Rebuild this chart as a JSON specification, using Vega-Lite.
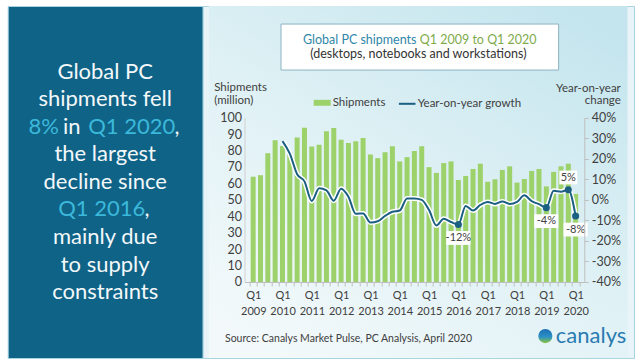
{
  "$schema": "https://vega.github.io/schema/vega-lite/v6.json",
  "background": "#ffffff",
  "padding": {"left": 6.7, "top": 5, "right": 7, "bottom": 6},
  "bounds": "flush",
  "spacing": 0,
  "config": {"font": "Lato", "view": {"stroke": null}, "axis": {"grid": false, "labelOverlap": false, "zindex": 1}},
  "datasets": {
    "q": [
      {"i":0,"q":"Q1 2009","s":64.1,"g":null},
      {"i":1,"q":"Q2 2009","s":65.0,"g":null},
      {"i":2,"q":"Q3 2009","s":78.3,"g":null},
      {"i":3,"q":"Q4 2009","s":86.2,"g":null},
      {"i":4,"q":"Q1 2010","s":82.8,"g":0.286},
      {"i":5,"q":"Q2 2010","s":79.0,"g":0.225},
      {"i":6,"q":"Q3 2010","s":88.0,"g":0.125},
      {"i":7,"q":"Q4 2010","s":93.9,"g":0.09},
      {"i":8,"q":"Q1 2011","s":82.4,"g":-0.006},
      {"i":9,"q":"Q2 2011","s":83.6,"g":0.056},
      {"i":10,"q":"Q3 2011","s":91.7,"g":0.046},
      {"i":11,"q":"Q4 2011","s":93.7,"g":-0.004},
      {"i":12,"q":"Q1 2012","s":86.6,"g":0.054},
      {"i":13,"q":"Q2 2012","s":84.6,"g":0.015},
      {"i":14,"q":"Q3 2012","s":85.6,"g":-0.068},
      {"i":15,"q":"Q4 2012","s":87.6,"g":-0.066},
      {"i":16,"q":"Q1 2013","s":77.6,"g":-0.11},
      {"i":17,"q":"Q2 2013","s":75.4,"g":-0.104},
      {"i":18,"q":"Q3 2013","s":79.0,"g":-0.078},
      {"i":19,"q":"Q4 2013","s":82.6,"g":-0.058},
      {"i":20,"q":"Q1 2014","s":73.4,"g":-0.052},
      {"i":21,"q":"Q2 2014","s":76.0,"g":0.007},
      {"i":22,"q":"Q3 2014","s":79.7,"g":0.007},
      {"i":23,"q":"Q4 2014","s":82.6,"g":0.0},
      {"i":24,"q":"Q1 2015","s":69.9,"g":-0.05},
      {"i":25,"q":"Q2 2015","s":66.4,"g":-0.125},
      {"i":26,"q":"Q3 2015","s":72.4,"g":-0.092},
      {"i":27,"q":"Q4 2015","s":73.4,"g":-0.108},
      {"i":28,"q":"Q1 2016","s":62.1,"g":-0.12,"lab":"-12%"},
      {"i":29,"q":"Q2 2016","s":64.5,"g":-0.03},
      {"i":30,"q":"Q3 2016","s":68.8,"g":-0.052},
      {"i":31,"q":"Q4 2016","s":72.0,"g":-0.025},
      {"i":32,"q":"Q1 2017","s":61.0,"g":-0.01},
      {"i":33,"q":"Q2 2017","s":62.5,"g":-0.02},
      {"i":34,"q":"Q3 2017","s":68.2,"g":-0.008},
      {"i":35,"q":"Q4 2017","s":70.4,"g":-0.02},
      {"i":36,"q":"Q1 2018","s":60.5,"g":-0.01},
      {"i":37,"q":"Q2 2018","s":62.7,"g":0.022},
      {"i":38,"q":"Q3 2018","s":67.6,"g":-0.006},
      {"i":39,"q":"Q4 2018","s":68.8,"g":-0.021},
      {"i":40,"q":"Q1 2019","s":58.2,"g":-0.038,"lab":"-4%"},
      {"i":41,"q":"Q2 2019","s":67.0,"g":0.044},
      {"i":42,"q":"Q3 2019","s":70.4,"g":0.04},
      {"i":43,"q":"Q4 2019","s":72.0,"g":0.049,"lab":"5%"},
      {"i":44,"q":"Q1 2020","s":53.6,"g":-0.079,"lab":"-8%"}
    ]
  },
  "hconcat": [
    {
      "width": 195,
      "height": 352,
      "view": {"fill": "#0f6387", "stroke": "#a9d4e2"},
      "layer": [
        {
          "data": {"values": [
            {"line": 1, "text": "Global PC"},
            {"line": 2, "text": "shipments fell"},
            {"line": 4, "text": "the largest"},
            {"line": 5, "text": "decline since"},
            {"line": 7, "text": "mainly due"},
            {"line": 8, "text": "to supply"},
            {"line": 9, "text": "constraints"}
          ]},
          "mark": {"type": "text", "align": "center", "baseline": "alphabetic", "fontSize": 22, "color": "#f3f8fa"},
          "encoding": {
            "text": {"field": "text"},
            "x": {"datum": 0.5, "type": "quantitative", "scale": {"domain": [0, 1]}, "axis": null},
            "y": {"field": "line", "type": "quantitative", "scale": {"domain": [1, 9], "range": [72.5, 293.3]}, "axis": null}
          }
        },
        {
          "data": {"values": [{"line": 3, "text": "8%"}]},
          "mark": {"type": "text", "align": "right", "baseline": "alphabetic", "fontSize": 22, "color": "#3bb8da"},
          "encoding": {
            "text": {"field": "text"},
            "x": {"datum": 0.2626, "type": "quantitative"},
            "y": {"field": "line", "type": "quantitative"}
          }
        },
        {
          "data": {"values": [{"line": 3, "text": "in"}]},
          "mark": {"type": "text", "align": "right", "baseline": "alphabetic", "fontSize": 22, "color": "#f3f8fa"},
          "encoding": {
            "text": {"field": "text"},
            "x": {"datum": 0.373, "type": "quantitative"},
            "y": {"field": "line", "type": "quantitative"}
          }
        },
        {
          "data": {"values": [{"line": 3, "text": "Q1 2020"}]},
          "mark": {"type": "text", "align": "left", "baseline": "alphabetic", "fontSize": 22, "color": "#3bb8da"},
          "encoding": {
            "text": {"field": "text"},
            "x": {"datum": 0.413, "type": "quantitative"},
            "y": {"field": "line", "type": "quantitative"}
          }
        },
        {
          "data": {"values": [{"line": 3, "text": ","}]},
          "mark": {"type": "text", "align": "left", "baseline": "alphabetic", "fontSize": 22, "color": "#f3f8fa"},
          "encoding": {
            "text": {"field": "text"},
            "x": {"datum": 0.856, "type": "quantitative"},
            "y": {"field": "line", "type": "quantitative"}
          }
        },
        {
          "data": {"values": [{"line": 6, "text": "Q1 2016"}]},
          "mark": {"type": "text", "align": "left", "baseline": "alphabetic", "fontSize": 22, "color": "#3bb8da"},
          "encoding": {
            "text": {"field": "text"},
            "x": {"datum": 0.259, "type": "quantitative"},
            "y": {"field": "line", "type": "quantitative"}
          }
        },
        {
          "data": {"values": [{"line": 6, "text": ","}]},
          "mark": {"type": "text", "align": "left", "baseline": "alphabetic", "fontSize": 22, "color": "#f3f8fa"},
          "encoding": {
            "text": {"field": "text"},
            "x": {"datum": 0.702, "type": "quantitative"},
            "y": {"field": "line", "type": "quantitative"}
          }
        }
      ]
    },
    {
      "width": 431.3,
      "height": 352,
      "view": {"fill": "#e8f4f7", "stroke": "#a9d4e2"},
      "resolve": {"scale": {"y": "independent"}},
      "layer": [
        {
          "layer": [
            {
              "data": {"values": [{}]},
              "mark": {"type": "rect",
                "fill": {"gradient": "linear", "x1": 0.85, "y1": 0, "x2": 0.15, "y2": 1, "stops": [{"offset": 0, "color": "#c4e5ee"}, {"offset": 0.5, "color": "#dff1f5"}, {"offset": 1, "color": "#f3f9fb"}]}},
              "encoding": {
                "x": {"datum": -6.04, "type": "quantitative"},
                "x2": {"datum": 51.08},
                "y": {"datum": 168, "type": "quantitative"},
                "y2": {"datum": -46.3}
              }
            },
            {
              "data": {"values": [{}]},
              "mark": {"type": "rect", "fill": "#ffffff", "stroke": "#8db3c3", "strokeWidth": 1},
              "encoding": {
                "x": {"datum": 3.8, "type": "quantitative"},
                "x2": {"datum": 41.68},
                "y": {"datum": 157, "type": "quantitative"},
                "y2": {"datum": 129}
              }
            },
            {
              "data": {"values": [{}]},
              "mark": {"type": "text", "align": "right", "baseline": "alphabetic", "fontSize": 12.5, "color": "#2f86a8", "text": "Global PC shipments"},
              "encoding": {
                "x": {"datum": 22.28, "type": "quantitative"},
                "y": {"datum": 145, "type": "quantitative"}
              }
            },
            {
              "data": {"values": [{}]},
              "mark": {"type": "text", "align": "left", "baseline": "alphabetic", "fontSize": 12.5, "color": "#7eab4a", "text": "Q1 2009 to Q1 2020"},
              "encoding": {
                "x": {"datum": 22.74, "type": "quantitative"},
                "y": {"datum": 145, "type": "quantitative"}
              }
            },
            {
              "data": {"values": [{}]},
              "mark": {"type": "text", "align": "center", "baseline": "alphabetic", "fontSize": 12.5, "color": "#333333", "text": "(desktops, notebooks and workstations)"},
              "encoding": {
                "x": {"datum": 22.54, "type": "quantitative"},
                "y": {"datum": 136.2, "type": "quantitative"}
              }
            },
            {
              "data": {"name": "q"},
              "mark": {"type": "bar", "size": 5},
              "encoding": {
                "x": {
                  "field": "i", "type": "quantitative", "title": null,
                  "scale": {"domain": [-0.5, 44.5], "range": [41.8, 381.6], "nice": false, "zero": false},
                  "axis": {
                    "orient": "bottom", "offset": -76, "tickCount": 200, "zindex": 1,
                    "values": [-0.5,0.5,1.5,2.5,3.5,4.5,5.5,6.5,7.5,8.5,9.5,10.5,11.5,12.5,13.5,14.5,15.5,16.5,17.5,18.5,19.5,20.5,21.5,22.5,23.5,24.5,25.5,26.5,27.5,28.5,29.5,30.5,31.5,32.5,33.5,34.5,35.5,36.5,37.5,38.5,39.5,40.5,41.5,42.5,43.5,44.5],
                    "labelExpr": "(datum.value + 0.5) % 4 == 0 ? ['Q1', '' + (2009 + (datum.value + 0.5) / 4)] : ''",
                    "labelOffset": 3.78, "labelFlush": false, "labelOverlap": false, "labelBound": false,
                    "domainColor": "#bfbfbf", "tickColor": "#bfbfbf", "tickSize": 4,
                    "labelColor": "#404040", "labelFontSize": 11, "labelPadding": 4, "labelLineHeight": 15.5, "labelBaseline": "top",
                    "grid": false
                  }
                },
                "y": {
                  "field": "s", "type": "quantitative",
                  "scale": {"domain": [0, 100], "range": [276, 111.7], "nice": false},
                  "axis": {
                    "orient": "left", "offset": -41.8, "tickCount": 50, "zindex": 1,
                    "values": [0,10,20,30,40,50,60,70,80,90,100],
                    "domainColor": "#d0d0d0", "ticks": false, "labelPadding": 3,
                    "labelFontSize": 12.5, "labelColor": "#404040", "labelOverlap": false,
                    "title": ["Shipments", "(million)"], "titleAngle": 0, "titleAlign": "left", "titleBaseline": "alphabetic",
                    "titleX": -30.8, "titleY": 84.3, "titleFontSize": 11.5, "titleFontWeight": "normal", "titleColor": "#404040", "titleLineHeight": 13,
                    "grid": false
                  }
                },
                "fill": {
                  "datum": "Shipments", "type": "nominal",
                  "scale": {"range": ["#9dd16a"]},
                  "legend": {
                    "orient": "none", "legendX": 306, "legendY": 88.3, "title": null, "padding": 0,
                    "symbolType": "M-1,-0.35L1,-0.35L1,0.35L-1,0.35Z", "symbolSize": 289, "symbolStrokeWidth": 0,
                    "labelFontSize": 11.5, "labelColor": "#404040", "labelOffset": 2
                  }
                }
              }
            },
            {
              "data": {"values": [{}]},
              "mark": {"type": "text", "align": "left", "baseline": "alphabetic", "fontSize": 10.5, "color": "#404040", "text": "Source: Canalys Market Pulse, PC Analysis, April 2020"},
              "encoding": {
                "x": {"datum": -3.84, "type": "quantitative"},
                "y": {"datum": -36.5, "type": "quantitative"}
              }
            },
            {
              "data": {"values": [{}]},
              "mark": {"type": "point", "shape": "circle", "filled": true, "size": 200, "opacity": 1,
                "fill": {"gradient": "linear", "x1": 0, "y1": 0, "x2": 0, "y2": 1, "stops": [{"offset": 0, "color": "#1d6fb3"}, {"offset": 0.55, "color": "#2a90c6"}, {"offset": 1, "color": "#8cc63f"}]}},
              "encoding": {
                "x": {"datum": 39.87, "type": "quantitative"},
                "y": {"datum": -32.9, "type": "quantitative"}
              }
            },
            {
              "data": {"values": [{}]},
              "mark": {"type": "text", "align": "left", "baseline": "alphabetic", "fontSize": 22, "color": "#2a7bb2", "text": "canalys"},
              "encoding": {
                "x": {"datum": 41.3, "type": "quantitative"},
                "y": {"datum": -37.2, "type": "quantitative"}
              }
            }
          ]
        },
        {
          "data": {"name": "q"},
          "layer": [
            {
              "transform": [{"filter": "datum.lab != null && datum.lab != '5%'"}],
              "mark": {"type": "point", "filled": true, "opacity": 1, "color": "#ffffff", "size": 576, "shape": "M-1,0.55L1,0.55L1,1.7L-1,1.7Z"},
              "encoding": {
                "x": {"field": "i", "type": "quantitative"},
                "y": {"field": "g", "type": "quantitative"}
              }
            },
            {
              "transform": [{"filter": "datum.lab == '5%'"}],
              "mark": {"type": "point", "filled": true, "opacity": 1, "color": "#ffffff", "size": 576, "shape": "M-0.75,-1.6L0.75,-1.6L0.75,-0.45L-0.75,-0.45Z"},
              "encoding": {
                "x": {"field": "i", "type": "quantitative"},
                "y": {"field": "g", "type": "quantitative"}
              }
            },
            {
              "mark": {"type": "line", "interpolate": "monotone", "stroke": "#ffffff", "strokeWidth": 5},
              "encoding": {
                "x": {"field": "i", "type": "quantitative"},
                "y": {"field": "g", "type": "quantitative"}
              }
            },
            {
              "mark": {"type": "line", "interpolate": "monotone", "strokeWidth": 2},
              "encoding": {
                "x": {"field": "i", "type": "quantitative"},
                "y": {
                  "field": "g", "type": "quantitative",
                  "scale": {"domain": [-0.4, 0.4], "range": [276, 111.7], "nice": false, "zero": false},
                  "axis": {
                    "orient": "right", "offset": -49.7, "tickCount": 50, "zindex": 1,
                    "values": [-0.4,-0.3,-0.2,-0.1,0,0.1,0.2,0.3,0.4],
                    "labelExpr": "round(datum.value * 100) + '%'",
                    "domainColor": "#bfbfbf", "tickColor": "#bfbfbf", "tickSize": 4, "labelPadding": 3,
                    "labelFontSize": 12.5, "labelColor": "#404040", "labelOverlap": false,
                    "title": ["Year-on-year", "change"], "titleAngle": 0, "titleAlign": "right", "titleBaseline": "alphabetic",
                    "titleX": 36, "titleY": 85, "titleFontSize": 11.5, "titleFontWeight": "normal", "titleColor": "#404040", "titleLineHeight": 13,
                    "grid": false
                  }
                },
                "stroke": {
                  "datum": "Year-on-year growth", "type": "nominal",
                  "scale": {"range": ["#1b5f82"]},
                  "legend": {
                    "orient": "none", "legendX": 390, "legendY": 88.3, "title": null, "padding": 0,
                    "symbolType": "stroke", "symbolSize": 276, "symbolStrokeWidth": 2,
                    "labelFontSize": 11.5, "labelColor": "#404040", "labelOffset": 1
                  }
                }
              }
            },
            {
              "transform": [{"filter": "datum.lab != null"}],
              "mark": {"type": "point", "filled": true, "opacity": 1, "color": "#1b5f82", "size": 50},
              "encoding": {
                "x": {"field": "i", "type": "quantitative"},
                "y": {"field": "g", "type": "quantitative"}
              }
            },
            {
              "transform": [{"filter": "datum.lab != null && datum.lab != '5%'"}],
              "mark": {"type": "text", "dy": 13.5, "baseline": "middle", "fontSize": 11, "color": "#404040"},
              "encoding": {
                "x": {"field": "i", "type": "quantitative"},
                "y": {"field": "g", "type": "quantitative"},
                "text": {"field": "lab"}
              }
            },
            {
              "transform": [{"filter": "datum.lab == '5%'"}],
              "mark": {"type": "text", "dy": -12, "baseline": "middle", "fontSize": 11, "color": "#404040"},
              "encoding": {
                "x": {"field": "i", "type": "quantitative"},
                "y": {"field": "g", "type": "quantitative"},
                "text": {"field": "lab"}
              }
            }
          ]
        }
      ]
    }
  ]
}
